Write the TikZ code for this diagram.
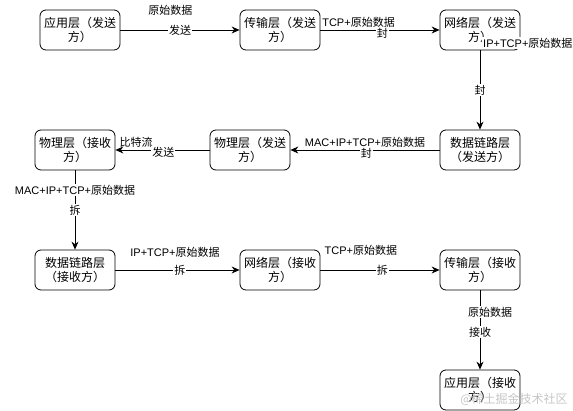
\documentclass[tikz,border=0pt]{standalone}
\usepackage{fontspec}
\setmainfont{Noto Sans CJK SC}
\newfontfamily\lat{Liberation Sans}
\usetikzlibrary{arrows.meta}
\begin{document}
\begin{tikzpicture}[x=1pt,y=-1pt,
  box/.style={draw, rounded corners=6pt, minimum width=80pt, minimum height=40pt, align=center, font=\fontsize{12}{14}\selectfont, inner sep=1pt, line width=0.8pt},
  lbl/.style={font=\fontsize{11}{13}\selectfont, inner sep=1pt},
  onl/.style={lbl, fill=white},
  arr/.style={-{Stealth[length=8pt,width=7pt]}, line width=0.8pt}]
\useasboundingbox (0,0) rectangle (573,411);
\node[box] (a1) at (80,30) {应用层（发送\\方）};
\node[box] (t1) at (280,30) {传输层（发送\\方）};
\node[box] (n1) at (480,30) {网络层（发送\\方）};
\node[box] (d1) at (480,150) {数据链路层\\（发送方）};
\node[box] (p1) at (250,150) {物理层（发送\\方）};
\node[box] (p2) at (75,150) {物理层（接收\\方）};
\node[box] (d2) at (75,270) {数据链路层\\（接收方）};
\node[box] (n2) at (280,270) {网络层（接收\\方）};
\node[box] (t2) at (480,270) {传输层（接收\\方）};
\node[box] (a2) at (480,390) {应用层（接收\\方）};

\draw[arr] (a1) -- (t1)
  node[lbl, pos=0.42, yshift=20pt] (l1a) {原始数据}
  node[onl, pos=0.5] (l1b) {发送};
\draw[arr] (t1) -- (n1)
  node[lbl, pos=0.32, yshift=8pt] (l2a) {{\lat TCP+}原始数据}
  node[onl, pos=0.52, yshift=-3pt] (l2b) {封};
\draw[arr] (n1) -- (d1)
  node[onl, pos=0.5] (l3b) {封};
\node[onl, anchor=west] (l3a) at ([xshift=2pt,yshift=7pt]n1.south) {{\lat IP+TCP+}原始数据};
\draw[arr] (d1) -- (p1)
  node[lbl, pos=0.5, yshift=8pt] (l4a) {{\lat MAC+IP+TCP+}原始数据}
  node[onl, pos=0.49, yshift=-3pt] (l4b) {封};
\draw[arr] (p1) -- (p2)
  node[lbl, pos=0.78, yshift=8pt] (l5a) {比特流}
  node[onl, pos=0.49, yshift=-2pt] (l5b) {发送};
\draw[arr] (p2) -- (d2)
  node[onl, pos=0.25] (l6a) {{\lat MAC+IP+TCP+}原始数据}
  node[onl, pos=0.5] (l6b) {拆};
\draw[arr] (d2) -- (n2)
  node[lbl, pos=0.48, yshift=18pt] (l7a) {{\lat IP+TCP+}原始数据}
  node[onl, pos=0.52] (l7b) {拆};
\draw[arr] (n2) -- (t2)
  node[lbl, pos=0.34, yshift=20pt] (l8a) {{\lat TCP+}原始数据}
  node[onl, pos=0.52] (l8b) {拆};
\draw[arr] (t2) -- (a2)
  node[onl, pos=0.275, xshift=10pt] (l9a) {原始数据}
  node[onl, pos=0.525] (l9b) {接收};
\node[font=\fontsize{12}{14}\selectfont, text=gray!45, inner sep=0pt] (wm) at (514,399) {@稀土掘金技术社区};
\end{tikzpicture}
\end{document}
